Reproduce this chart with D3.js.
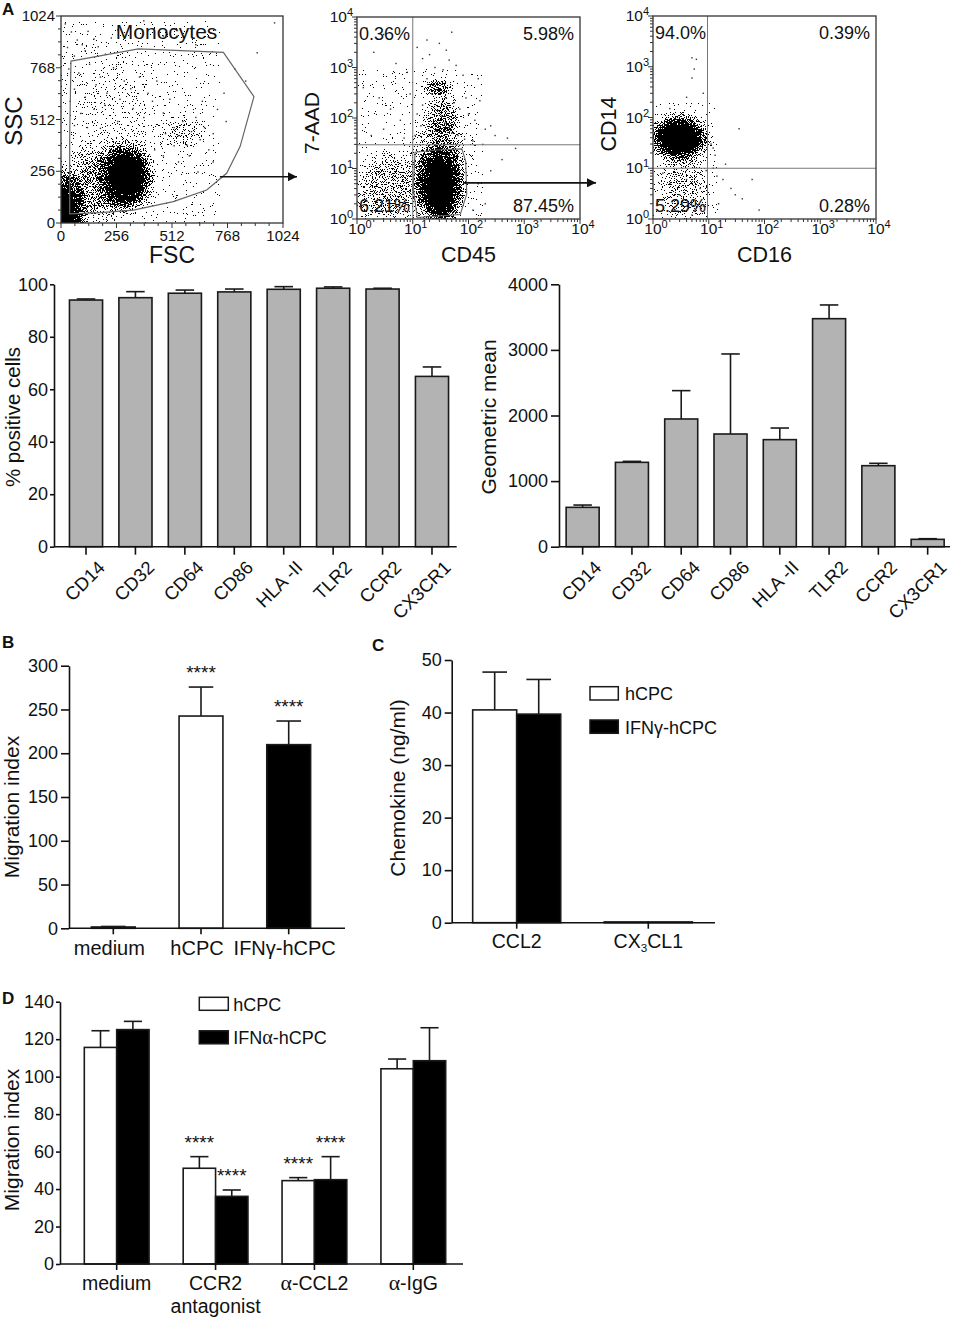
<!DOCTYPE html>
<html><head><meta charset="utf-8">
<script src="https://cdn.jsdelivr.net/npm/d3@7"></script>
<style>
body{margin:0;background:#fff;}
svg{display:block;font-family:"Liberation Sans",Arial,Helvetica,sans-serif;}
</style></head><body>
<svg id="fig" width="956" height="1320"></svg>
<script>
// ===================== DATA =====================
// --- Panel A, flow cytometry ---
const linearTicks = [0, 256, 512, 768, 1024];
const linearMinorTicks = [64, 128, 192, 320, 384, 448, 576, 640, 704, 832, 896, 960];
const logDecades = [1, 10, 100, 1000, 10000];
const logExponents = ["0", "1", "2", "3", "4"];

// FSC/SSC density regions (centre, spread in data units, density)
const fscSscDensity = [
  {x: 303, y: 229, rx: 150, ry: 200, a: 1},
  {x: 0, y: 40, rx: 130, ry: 260, a: 1},
  {x: 170, y: 190, rx: 190, ry: 240, a: 0.42},
  {x: 250, y: 560, rx: 260, ry: 380, a: 0.1},
  {x: 560, y: 450, rx: 130, ry: 100, a: 0.25}
];
const fscSscSparse = [[20,985],[48,945],[75,905],[30,868],[98,882],[125,948],[152,910],[62,826],[112,852],[172,872],[205,835],[232,915],[262,955],[36,762],[82,742],[132,785],[182,722],[242,768],[292,702],[62,662],[112,622],[162,684],[212,642],[272,612],[322,664],[362,722],[402,642],[332,566],[382,522],[422,602],[442,702],[472,544],[502,612],[522,472],[542,432],[562,502],[582,384],[602,452],[622,522],[642,412],[662,472],[682,362],[702,442],[522,382],[482,442],[592,332],[652,602],[722,562],[762,502],[702,302],[632,252],[542,302],[432,362],[472,332],[752,642],[802,762],[852,702],[905,842],[985,990],[622,882],[472,925],[382,1000],[152,562],[92,542],[42,602],[202,582],[262,502],[122,472],[62,482],[182,468]];
const monocyteGate = [[46,801],[357,861],[749,844],[890,625],[826,378],[764,246],[672,163],[518,106],[334,64],[180,51],[40,45],[40,420]];
const monocyteLabelPos = [487, 909];
const gateArrowStart1 = [733, 229];

// CD45 / 7-AAD
const cd45Density = [
  {x: 31, y: 4.5, rx: 0.5, ry: 1.0, a: 1},
  {x: 30, y: 18, rx: 0.65, ry: 1.2, a: 0.33},
  {x: 28, y: 400, rx: 0.32, ry: 0.2, a: 0.55},
  {x: 35, y: 100, rx: 0.35, ry: 0.6, a: 0.35},
  {x: 4, y: 4, rx: 0.8, ry: 0.9, a: 0.35}
];
const cd45Sparse = [[1.5,6000],[3,4500],[2,2000],[5,1200],[8,800],[1.3,400],[2.5,250],[4,150],[6,90],[3,60],[1.8,45],[7,40],[9,300],[12,2500],[15,1500],[20,1800],[25,1000],[35,900],[45,1400],[60,1100],[80,700],[150,600],[18,600],[22,300],[40,250],[55,200],[70,150],[100,120],[130,90],[200,60],[300,45],[500,40],[15,180],[28,140],[33,110],[38,80],[45,65],[26,55],[50,50],[65,45],[85,38],[120,35],[180,30],[250,70],[160,220],[90,250],[12,120],[14,70],[11,45],[30,3000],[40,2200],[700,25],[400,15],[250,9],[150,5],[200,2],[120,1.5],[50,5000],[18,3500]];
const cd45Gate = [[11,21],[31,23.5],[76,24.5],[89,14],[93,3.1],[71,1.23],[12,1.07],[10.2,4.2]];
const cd45Quadrant = [10, 29.5];
const cd45Percents = ["0.36%", "5.98%", "6.21%", "87.45%"];
const gateArrowStart2 = [80, 5.2];

// CD16 / CD14
const cd16Density = [
  {x: 3.0, y: 40, rx: 0.62, ry: 0.55, a: 1},
  {x: 3.5, y: 4, rx: 0.55, ry: 0.9, a: 0.3}
];
const cd16Sparse = [[5,1500],[6,1400],[5.5,900],[5,600],[4,250],[2,150],[8,300],[12,25],[13,18],[20,12],[18,6],[25,4],[30,3],[40,2.5],[15,2],[60,6],[80,1.5],[35,60],[12,10],[9,9],[1.5,8],[2,5],[3,3],[4,6],[6,2],[7,4],[2.5,1.5],[1.2,2],[5,1.2],[8,1.8],[11,30],[14,7]];
const cd16Quadrant = [9.5, 10];
const cd16Percents = ["94.0%", "0.39%", "5.29%", "0.28%"];

// --- Panel A, marker bar charts ---
const markers = ["CD14", "CD32", "CD64", "CD86", "HLA -II", "TLR2", "CCR2", "CX3CR1"];
const pctPositive = [94.0, 94.9, 96.6, 97.1, 98.1, 98.5, 98.2, 64.9];
const pctPositiveErr = [0.4, 2.3, 1.2, 1.1, 1.0, 0.5, 0.3, 3.6];
const pctTicks = [0, 20, 40, 60, 80, 100];
const geoMean = [600, 1286, 1947, 1718, 1632, 3476, 1235, 112];
const geoMeanErr = [35, 15, 432, 1220, 177, 209, 36, 10];
const geoTicks = [0, 1000, 2000, 3000, 4000];

// --- Panel B ---
const migrationCats = ["medium", "hCPC", "IFNγ-hCPC"];
const migrationVals = [1.5, 242.5, 209.8];
const migrationErr = [0.6, 33.1, 27.0];
const migrationSig = ["", "****", "****"];
const migrationTicks = [0, 50, 100, 150, 200, 250, 300];

// --- Panel C ---
const chemokines = ["CCL2", "CX3CL1"];
const chemSeries = ["hCPC", "IFNγ-hCPC"];
const chemHcpc = [40.5, 0.15];
const chemHcpcErr = [7.2, 0];
const chemIfn = [39.7, 0.15];
const chemIfnErr = [6.6, 0];
const chemTicks = [0, 10, 20, 30, 40, 50];

// --- Panel D ---
const inhibGroups = ["medium", "CCR2 antagonist", "α-CCL2", "α-IgG"];
const inhibSeries = ["hCPC", "IFNα-hCPC"];
const inhibHcpc = [115.6, 51.1, 44.5, 104.2];
const inhibHcpcErr = [8.9, 6.2, 1.6, 5.2];
const inhibIfn = [125.1, 36.1, 45.0, 108.5];
const inhibIfnErr = [4.4, 3.4, 12.3, 17.6];
const inhibSigHcpc = ["", "****", "****", ""];
const inhibSigIfn = ["", "****", "****", ""];
const inhibTicks = [0, 20, 40, 60, 80, 100, 120, 140];

// ===================== DRAWING =====================
const FONT = "'Liberation Sans', Arial, Helvetica, sans-serif";
const SERIF = "'Liberation Serif', 'DejaVu Serif', serif";
const INK = "#111";
const svg = d3.select("#fig");
svg.append("rect").attr("width", 956).attr("height", 1320).attr("fill", "#fff");
const defs = svg.append("defs");

const grad = defs.append("radialGradient").attr("id", "blob");
grad.append("stop").attr("offset", "0%").attr("stop-color", "#000").attr("stop-opacity", 1);
grad.append("stop").attr("offset", "45%").attr("stop-color", "#000").attr("stop-opacity", 1);
grad.append("stop").attr("offset", "100%").attr("stop-color", "#000").attr("stop-opacity", 0);

const flt = defs.append("filter").attr("id", "grain").attr("color-interpolation-filters", "sRGB")
  .attr("x", "-5%").attr("y", "-5%").attr("width", "110%").attr("height", "110%");
flt.append("feTurbulence").attr("type", "fractalNoise").attr("baseFrequency", 0.9).attr("numOctaves", 2).attr("seed", 7).attr("result", "noise");
flt.append("feColorMatrix").attr("in", "noise").attr("type", "matrix")
  .attr("values", "0 0 0 0 0  0 0 0 0 0  0 0 0 0 0  2.2 0 0 0 -0.6").attr("result", "nA");
flt.append("feComposite").attr("in", "SourceGraphic").attr("in2", "nA").attr("operator", "arithmetic")
  .attr("k1", 0).attr("k2", 6).attr("k3", -6).attr("k4", 0.5).attr("result", "diff");
const ct = flt.append("feComponentTransfer").attr("in", "diff").attr("result", "thr");
ct.append("feFuncA").attr("type", "discrete").attr("tableValues", "0 1");
flt.append("feColorMatrix").attr("in", "thr").attr("type", "matrix")
  .attr("values", "0 0 0 0 0  0 0 0 0 0  0 0 0 0 0  0 0 0 1 0");

defs.append("marker").attr("id", "arrow").attr("viewBox", "0 0 10 10").attr("refX", 10).attr("refY", 5)
  .attr("markerWidth", 10).attr("markerHeight", 9).attr("markerUnits", "userSpaceOnUse").attr("orient", "auto")
  .append("path").attr("d", "M0,0L10,5L0,10z").attr("fill", INK);

function addRich(sel, s) {
  if (s === "CX3CL1") {
    sel.append("tspan").text("CX");
    sel.append("tspan").attr("font-size", "0.6em").attr("dy", "0.35em").text("3");
    sel.append("tspan").attr("dy", "-0.21em").text("CL1");
    return;
  }
  s.split(/(α)/).forEach(p => {
    if (!p) return;
    const t = sel.append("tspan").text(p);
    if (p === "α") t.attr("font-family", SERIF).attr("font-size", "1.12em");
  });
}

function yTitle(x, y, txt, size) {
  svg.append("text").attr("transform", `translate(${x},${y}) rotate(-90)`)
    .attr("text-anchor", "middle").attr("font-size", size).attr("fill", INK).text(txt);
}

function panelLabel(x, y, t) {
  svg.append("text").attr("x", x).attr("y", y).attr("font-size", 17).attr("font-weight", "bold").attr("fill", INK).text(t);
}

// ---------- flow plots ----------
let clipCount = 0;
function flowPlot(box, xs, ys, density, sparse, isLog) {
  const id = "clip" + (clipCount++);
  defs.append("clipPath").attr("id", id).append("rect")
    .attr("x", box.l).attr("y", box.t).attr("width", box.r - box.l).attr("height", box.b - box.t);
  const spanX = isLog ? d => xs(d.x * Math.pow(10, d.rx)) - xs(d.x) : d => xs(d.x + d.rx) - xs(d.x);
  const spanY = isLog ? d => ys(d.y) - ys(d.y * Math.pow(10, d.ry)) : d => ys(d.y) - ys(d.y + d.ry);
  const g = svg.append("g").attr("clip-path", `url(#${id})`);
  g.append("g").attr("filter", "url(#grain)").selectAll("ellipse").data(density).join("ellipse")
    .attr("cx", d => xs(d.x)).attr("cy", d => ys(d.y))
    .attr("rx", spanX).attr("ry", spanY)
    .attr("fill", "url(#blob)").attr("fill-opacity", d => d.a);
  g.append("g").selectAll("rect").data(sparse).join("rect")
    .attr("x", d => xs(d[0]) - 0.7).attr("y", d => ys(d[1]) - 0.7)
    .attr("width", 1.4).attr("height", 1.4).attr("fill", "#333");
  return g;
}

function frame(box) {
  svg.append("rect").attr("x", box.l).attr("y", box.t).attr("width", box.r - box.l).attr("height", box.b - box.t)
    .attr("fill", "none").attr("stroke", "#333").attr("stroke-width", 1.3);
}

function logAxes(box, xs, ys) {
  const minor = [];
  [1, 10, 100, 1000].forEach(dec => { for (let m = 2; m <= 9; m++) minor.push(dec * m); });
  const g = svg.append("g").attr("stroke", "#333").attr("stroke-width", 1);
  g.selectAll(".xm").data(logDecades).join("line").attr("x1", d => xs(d)).attr("x2", d => xs(d)).attr("y1", box.b).attr("y2", box.b + 5);
  g.selectAll(".xn").data(minor).join("line").attr("x1", d => xs(d)).attr("x2", d => xs(d)).attr("y1", box.b).attr("y2", box.b + 3);
  g.selectAll(".ym").data(logDecades).join("line").attr("y1", d => ys(d)).attr("y2", d => ys(d)).attr("x1", box.l).attr("x2", box.l - 5);
  g.selectAll(".yn").data(minor).join("line").attr("y1", d => ys(d)).attr("y2", d => ys(d)).attr("x1", box.l).attr("x2", box.l - 3);
  logDecades.forEach((v, i) => {
    const tx = svg.append("text").attr("x", xs(v) + 3).attr("y", box.b + 15).attr("text-anchor", "middle")
      .attr("font-size", 15.5).attr("fill", INK);
    tx.append("tspan").text("10");
    tx.append("tspan").attr("font-size", 11).attr("dy", -6).text(logExponents[i]);
    const ty = svg.append("text").attr("x", box.l - 4).attr("y", ys(v) + 5).attr("text-anchor", "end")
      .attr("font-size", 15.5).attr("fill", INK);
    ty.append("tspan").text("10");
    ty.append("tspan").attr("font-size", 11).attr("dy", -6).text(logExponents[i]);
  });
}

// Plot 1: FSC / SSC
const b1 = {l: 61, r: 283, t: 16, b: 223};
const x1 = d3.scaleLinear().domain([0, 1024]).range([b1.l, b1.r]);
const y1 = d3.scaleLinear().domain([0, 1024]).range([b1.b, b1.t]);
flowPlot(b1, x1, y1, fscSscDensity, fscSscSparse, false);
svg.append("path").datum(monocyteGate)
  .attr("d", d3.line().x(d => x1(d[0])).y(d => y1(d[1])).curve(d3.curveLinearClosed))
  .attr("fill", "none").attr("stroke", "#666").attr("stroke-width", 1.2);
frame(b1);
{
  const g = svg.append("g").attr("stroke", "#333").attr("stroke-width", 1);
  g.selectAll(".xt").data(linearTicks).join("line").attr("x1", d => x1(d)).attr("x2", d => x1(d)).attr("y1", b1.b).attr("y2", b1.b + 5);
  g.selectAll(".yt").data(linearTicks).join("line").attr("y1", d => y1(d)).attr("y2", d => y1(d)).attr("x1", b1.l).attr("x2", b1.l - 5);
  g.selectAll(".xn").data(linearMinorTicks).join("line").attr("x1", d => x1(d)).attr("x2", d => x1(d)).attr("y1", b1.b).attr("y2", b1.b + 3);
  g.selectAll(".yn").data(linearMinorTicks).join("line").attr("y1", d => y1(d)).attr("y2", d => y1(d)).attr("x1", b1.l).attr("x2", b1.l - 3);
  svg.append("g").selectAll("text").data(linearTicks).join("text")
    .attr("x", d => x1(d)).attr("y", b1.b + 18).attr("text-anchor", "middle").attr("font-size", 15).attr("fill", INK).text(d => d);
  svg.append("g").selectAll("text").data(linearTicks).join("text")
    .attr("x", b1.l - 6).attr("y", d => y1(d) + 5).attr("text-anchor", "end").attr("font-size", 15).attr("fill", INK).text(d => d);
}
svg.append("text").attr("x", x1(monocyteLabelPos[0])).attr("y", y1(monocyteLabelPos[1]))
  .attr("text-anchor", "middle").attr("font-size", 21).attr("fill", INK).text("Monocytes");
svg.append("line").attr("x1", x1(gateArrowStart1[0])).attr("y1", y1(gateArrowStart1[1]))
  .attr("x2", b1.r + 14).attr("y2", y1(gateArrowStart1[1])).attr("stroke", INK).attr("stroke-width", 1.6).attr("marker-end", "url(#arrow)");
yTitle(22, 121, "SSC", 24);
svg.append("text").attr("x", (b1.l + b1.r) / 2).attr("y", 263).attr("text-anchor", "middle").attr("font-size", 23).attr("fill", INK).text("FSC");

// Plot 2: CD45 / 7-AAD
const b2 = {l: 357, r: 580, t: 17, b: 219};
const x2 = d3.scaleLog().domain([1, 10000]).range([b2.l, b2.r]);
const y2 = d3.scaleLog().domain([1, 10000]).range([b2.b, b2.t]);
flowPlot(b2, x2, y2, cd45Density, cd45Sparse, true);
svg.append("line").attr("x1", x2(cd45Quadrant[0])).attr("x2", x2(cd45Quadrant[0])).attr("y1", b2.t).attr("y2", b2.b).attr("stroke", "#777").attr("stroke-width", 1);
svg.append("line").attr("y1", y2(cd45Quadrant[1])).attr("y2", y2(cd45Quadrant[1])).attr("x1", b2.l).attr("x2", b2.r).attr("stroke", "#777").attr("stroke-width", 1);
svg.append("path").datum(cd45Gate)
  .attr("d", d3.line().x(d => x2(d[0])).y(d => y2(d[1])).curve(d3.curveLinearClosed))
  .attr("fill", "none").attr("stroke", "#666").attr("stroke-width", 1.1);
frame(b2);
logAxes(b2, x2, y2);
svg.append("line").attr("x1", x2(gateArrowStart2[0])).attr("y1", y2(gateArrowStart2[1]))
  .attr("x2", b2.r + 16).attr("y2", y2(gateArrowStart2[1])).attr("stroke", INK).attr("stroke-width", 1.6).attr("marker-end", "url(#arrow)");
yTitle(319, 123, "7-AAD", 21);
svg.append("text").attr("x", (b2.l + b2.r) / 2).attr("y", 262).attr("text-anchor", "middle").attr("font-size", 21.5).attr("fill", INK).text("CD45");

// Plot 3: CD16 / CD14
const b3 = {l: 653, r: 876, t: 16, b: 219};
const x3 = d3.scaleLog().domain([1, 10000]).range([b3.l, b3.r]);
const y3 = d3.scaleLog().domain([1, 10000]).range([b3.b, b3.t]);
flowPlot(b3, x3, y3, cd16Density, cd16Sparse, true);
svg.append("line").attr("x1", x3(cd16Quadrant[0])).attr("x2", x3(cd16Quadrant[0])).attr("y1", b3.t).attr("y2", b3.b).attr("stroke", "#777").attr("stroke-width", 1);
svg.append("line").attr("y1", y3(cd16Quadrant[1])).attr("y2", y3(cd16Quadrant[1])).attr("x1", b3.l).attr("x2", b3.r).attr("stroke", "#777").attr("stroke-width", 1);
frame(b3);
logAxes(b3, x3, y3);
yTitle(616, 124, "CD14", 21.5);
svg.append("text").attr("x", (b3.l + b3.r) / 2).attr("y", 262).attr("text-anchor", "middle").attr("font-size", 21.5).attr("fill", INK).text("CD16");

function quadText(box, pcts) {
  const pos = [
    {x: box.l + 2, y: box.t + 23, a: "start"}, {x: box.r - 6, y: box.t + 23, a: "end"},
    {x: box.l + 2, y: box.b - 7, a: "start"}, {x: box.r - 6, y: box.b - 7, a: "end"}];
  pcts.forEach((p, i) => svg.append("text").attr("x", pos[i].x).attr("y", pos[i].y).attr("text-anchor", pos[i].a)
    .attr("font-size", 18).attr("fill", INK).text(p));
}
quadText(b2, cd45Percents);
quadText(b3, cd16Percents);

// ---------- bar chart helpers ----------
function drawYAxis(scale, x, ticks, size, pad) {
  const g = svg.append("g").attr("transform", `translate(${x},0)`)
    .call(d3.axisLeft(scale).tickValues(ticks).tickSize(size).tickPadding(pad).tickSizeOuter(0).tickFormat(d3.format("d")));
  g.attr("font-family", FONT);
  g.select(".domain").attr("stroke", INK).attr("stroke-width", 1.6);
  g.selectAll(".tick line").attr("stroke", INK).attr("stroke-width", 1.6);
  g.selectAll(".tick text").attr("font-size", 18).attr("fill", INK);
  return g;
}
function drawXBase(xa, xb, y, centers, tickLen) {
  svg.append("line").attr("x1", xa).attr("x2", xb).attr("y1", y).attr("y2", y).attr("stroke", INK).attr("stroke-width", 1.6);
  svg.append("g").selectAll("line").data(centers).join("line")
    .attr("x1", d => d).attr("x2", d => d).attr("y1", y).attr("y2", y + (tickLen || 6)).attr("stroke", INK).attr("stroke-width", 1.6);
}
function drawBars(bars, ys) {
  const g = svg.append("g");
  g.selectAll("rect").data(bars).join("rect")
    .attr("x", d => d.x).attr("width", d => d.w)
    .attr("y", d => ys(d.v)).attr("height", d => ys(0) - ys(d.v))
    .attr("fill", d => d.fill).attr("stroke", "#1a1a1a").attr("stroke-width", 1.6);
  const eb = bars.filter(d => d.e > 0);
  g.selectAll(".ev").data(eb).join("line")
    .attr("x1", d => d.x + d.w / 2).attr("x2", d => d.x + d.w / 2)
    .attr("y1", d => ys(d.v)).attr("y2", d => ys(d.v + d.e)).attr("stroke", "#1a1a1a").attr("stroke-width", 1.6);
  g.selectAll(".ec").data(eb).join("line")
    .attr("x1", d => d.x + d.w / 2 - d.w * 0.28).attr("x2", d => d.x + d.w / 2 + d.w * 0.28)
    .attr("y1", d => ys(d.v + d.e)).attr("y2", d => ys(d.v + d.e)).attr("stroke", "#1a1a1a").attr("stroke-width", 1.6);
  g.selectAll(".sig").data(bars.filter(d => d.sig)).join("text")
    .attr("x", d => d.x + d.w / 2).attr("y", d => ys(d.v + d.e) - 8)
    .attr("text-anchor", "middle").attr("font-size", 19).attr("fill", INK).text(d => d.sig);
}
function rotatedLabels(cats, xs, y) {
  svg.append("g").selectAll("text").data(cats).join("text")
    .attr("transform", d => `translate(${xs(d) + xs.bandwidth() / 2 + 20},${y + 22}) rotate(-45)`)
    .attr("text-anchor", "end").attr("font-size", 18.5).attr("fill", INK).text(d => d);
}

// ---------- Panel A: % positive ----------
const xA1 = d3.scaleBand().domain(markers).range([61.3, 456.7]).paddingInner(0.33).paddingOuter(0.165);
const yA1 = d3.scaleLinear().domain([0, 100]).range([546.7, 284.3]);
drawBars(markers.map((m, i) => ({x: xA1(m), w: xA1.bandwidth(), v: pctPositive[i], e: pctPositiveErr[i], fill: "#b3b3b3"})), yA1);
drawYAxis(yA1, 54, pctTicks, 4, 2);
drawXBase(54, 456.7, yA1(0), markers.map(m => xA1(m) + xA1.bandwidth() / 2), 8);
rotatedLabels(markers, xA1, yA1(0));
yTitle(20, 417, "% positive cells", 20.5);

// ---------- Panel A: geometric mean ----------
const xA2 = d3.scaleBand().domain(markers).range([558, 952.3]).paddingInner(0.33).paddingOuter(0.165);
const yA2 = d3.scaleLinear().domain([0, 4000]).range([546.7, 284.3]);
drawBars(markers.map((m, i) => ({x: xA2(m), w: xA2.bandwidth(), v: geoMean[i], e: geoMeanErr[i], fill: "#b3b3b3"})), yA2);
drawYAxis(yA2, 559, geoTicks, 8, 3);
drawXBase(559, 950, yA2(0), markers.map(m => xA2(m) + xA2.bandwidth() / 2), 8);
rotatedLabels(markers, xA2, yA2(0));
yTitle(496, 417, "Geometric mean", 21);

// ---------- Panel B ----------
const xB = d3.scaleBand().domain(migrationCats).range([69.45, 332.55]).paddingInner(0.5).paddingOuter(0.25);
const yB = d3.scaleLinear().domain([0, 300]).range([928.3, 665.7]);
drawBars(migrationCats.map((c, i) => ({x: xB(c), w: xB.bandwidth(), v: migrationVals[i], e: migrationErr[i],
  fill: i === 2 ? "#000" : "#fff", sig: migrationSig[i]})), yB);
drawYAxis(yB, 69, migrationTicks, 8, 3);
drawXBase(69, 345, yB(0), migrationCats.map(c => xB(c) + xB.bandwidth() / 2));
migrationCats.forEach(c => {
  const t = svg.append("text").attr("x", xB(c) + xB.bandwidth() / 2 - 4).attr("y", 955)
    .attr("text-anchor", "middle").attr("font-size", 20).attr("fill", INK);
  addRich(t, c);
});
yTitle(19, 807, "Migration index", 21);

// ---------- Panel C ----------
const xC0 = d3.scaleBand().domain(chemokines).range([450.9, 714.1]).paddingInner(0.331).paddingOuter(0.1655);
const xC1 = d3.scaleBand().domain(chemSeries).range([0, xC0.bandwidth()]);
const yC = d3.scaleLinear().domain([0, 50]).range([922.7, 660]);
const seriesFill = ["#fff", "#000"];
const chemBars = [];
chemokines.forEach((c, i) => {
  chemBars.push({x: xC0(c) + xC1(chemSeries[0]), w: xC1.bandwidth(), v: chemHcpc[i], e: chemHcpcErr[i], fill: seriesFill[0]});
  chemBars.push({x: xC0(c) + xC1(chemSeries[1]), w: xC1.bandwidth(), v: chemIfn[i], e: chemIfnErr[i], fill: seriesFill[1]});
});
drawBars(chemBars, yC);
drawYAxis(yC, 451.7, chemTicks, 7, 3);
drawXBase(451.7, 715, yC(0), chemokines.map(c => xC0(c) + xC0.bandwidth() / 2));
chemokines.forEach(c => {
  const t = svg.append("text").attr("x", xC0(c) + xC0.bandwidth() / 2).attr("y", 948)
    .attr("text-anchor", "middle").attr("font-size", 19.5).attr("fill", INK);
  addRich(t, c);
});
yTitle(405, 788, "Chemokine (ng/ml)", 21);
chemSeries.forEach((s, i) => {
  const yy = 686.7 + i * 33.3;
  svg.append("rect").attr("x", 590).attr("y", yy).attr("width", 28.3).attr("height", 13.3)
    .attr("fill", seriesFill[i]).attr("stroke", "#1a1a1a").attr("stroke-width", 1.5);
  const t = svg.append("text").attr("x", 625).attr("y", yy + 13.5).attr("font-size", 18).attr("fill", INK);
  addRich(t, s);
});

// ---------- Panel D ----------
const xD0 = d3.scaleBand().domain(inhibGroups).range([67.25, 462.75]).paddingInner(0.345).paddingOuter(0.1725);
const xD1 = d3.scaleBand().domain(inhibSeries).range([0, xD0.bandwidth()]);
const yD = d3.scaleLinear().domain([0, 140]).range([1264, 1001.7]);
const inhibBars = [];
inhibGroups.forEach((gname, i) => {
  inhibBars.push({x: xD0(gname) + xD1(inhibSeries[0]), w: xD1.bandwidth(), v: inhibHcpc[i], e: inhibHcpcErr[i], fill: seriesFill[0], sig: inhibSigHcpc[i]});
  inhibBars.push({x: xD0(gname) + xD1(inhibSeries[1]), w: xD1.bandwidth(), v: inhibIfn[i], e: inhibIfnErr[i], fill: seriesFill[1], sig: inhibSigIfn[i]});
});
drawBars(inhibBars, yD);
drawYAxis(yD, 60, inhibTicks, 4, 2);
drawXBase(60, 463, yD(0), inhibGroups.map(gname => xD0(gname) + xD0.bandwidth() / 2));
inhibGroups.forEach(gname => {
  const cx = xD0(gname) + xD0.bandwidth() / 2;
  const t = svg.append("text").attr("text-anchor", "middle").attr("font-size", 19.5).attr("fill", INK);
  if (gname === "CCR2 antagonist") {
    t.append("tspan").attr("x", cx).attr("y", 1290).text("CCR2");
    t.append("tspan").attr("x", cx).attr("y", 1313).text("antagonist");
  } else {
    t.attr("x", cx).attr("y", 1290);
    addRich(t, gname);
  }
});
yTitle(19, 1140, "Migration index", 21);
inhibSeries.forEach((s, i) => {
  const yy = 997.3 + i * 33.5;
  svg.append("rect").attr("x", 199.3).attr("y", yy).attr("width", 29).attr("height", 13)
    .attr("fill", seriesFill[i]).attr("stroke", "#1a1a1a").attr("stroke-width", 1.5);
  const t = svg.append("text").attr("x", 233.3).attr("y", yy + 13.5).attr("font-size", 18).attr("fill", INK);
  addRich(t, s);
});

panelLabel(2, 15, "A");
panelLabel(2, 648, "B");
panelLabel(372, 651, "C");
panelLabel(2, 1004, "D");
</script>
</body></html>
